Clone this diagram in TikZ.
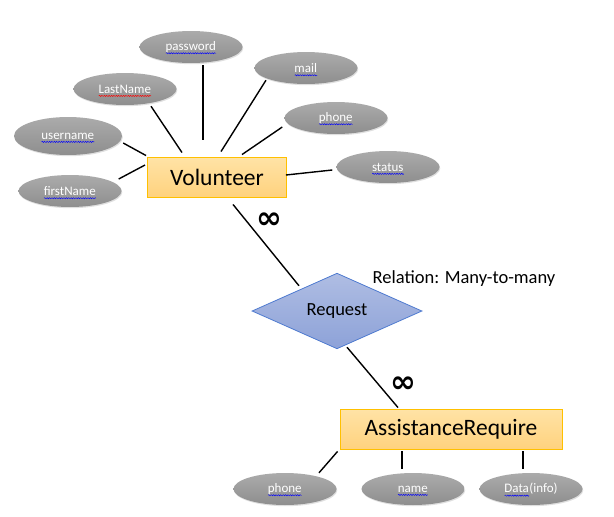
\documentclass[tikz,border=0pt]{standalone}
\usepackage{fontspec}
\setmainfont{Carlito}
\newfontfamily\dejavu{DejaVu Sans}
\usetikzlibrary{shapes.geometric,shadows,decorations.pathmorphing}
\newsavebox\sqbox
\newcommand\squig[2][blue]{\sbox\sqbox{#2}\leavevmode\rlap{\usebox\sqbox}\raisebox{-2.8pt}[0pt][0pt]{\tikz[baseline=0pt]\draw[#1,line width=0.45pt,decorate,decoration={snake,amplitude=0.6pt,segment length=2.4pt}] (0pt,0pt) -- (\wd\sqbox,0pt);}}
\definecolor{attrtop}{HTML}{ABABAB}
\definecolor{attrbot}{HTML}{8E8E8E}
\definecolor{enttop}{HTML}{FFE3A6}
\definecolor{entbot}{HTML}{FFD27E}
\definecolor{entborder}{HTML}{FFC000}
\definecolor{reltop}{HTML}{AFBDE3}
\definecolor{relbot}{HTML}{8DA2D8}
\definecolor{relborder}{HTML}{4F7BD0}
\begin{document}
\begin{tikzpicture}[x=1pt,y=-1pt,
  attr/.style={ellipse, minimum width=103pt, minimum height=32pt, inner sep=0pt,
    top color=attrtop, bottom color=attrbot, draw=none, text=white,
    font=\fontsize{13}{15}\selectfont,
    drop shadow={opacity=0.25, shadow xshift=0.8pt, shadow yshift=-1.2pt}},
  ent/.style={rectangle, draw=entborder, line width=0.9pt, top color=enttop,
    bottom color=entbot, font=\fontsize{23.5}{28}\selectfont,
    minimum height=40pt, inner sep=0pt},
  rel/.style={diamond, draw=relborder, line width=0.8pt, top color=reltop,
    bottom color=relbot, minimum width=170pt, minimum height=75pt, inner sep=0pt,
    font=\fontsize{18.5}{22}\selectfont},
  conn/.style={draw=black, line width=1.4pt},
  inf/.style={font=\dejavu\bfseries\fontsize{31}{34}\selectfont, inner sep=0pt}]
\useasboundingbox (0,0) rectangle (614,517);
% entities
\node[ent, minimum width=139pt] (vol) at (217,177) {Volunteer};
\node[ent, minimum width=222pt] (ar) at (451,429) {AssistanceRequire};
\node[rel] (req) at (337,311) {Request};
% attributes
\node[attr] (pw) at (191,47) {\squig{password}};
\node[attr] (ln) at (125,89) {\squig[red]{LastName}};
\node[attr, minimum width=108pt, minimum height=38pt] (un) at (68,136) {\squig{username}};
\node[attr] (fn) at (70,191) {\squig{firstName}};
\node[attr] (ml) at (306,68) {\squig{mail}};
\node[attr] (ph) at (336,118) {\squig{phone}};
\node[attr] (st) at (388,167) {\squig{status}};
\node[attr] (ph2) at (285,489) {\squig{phone}};
\node[attr] (nm) at (413,489) {\squig{name}};
\node[attr] (dt) at (531,489) {\squig{Data}(info)};
% labels
\node[font=\fontsize{18.5}{22}\selectfont, inner sep=0pt] (lbl) at (464,279) {Relation: Many-to-many};
\node[inf] (inf1) at (269.5,220.5) {∞};
\node[inf] (inf2) at (403.5,385) {∞};
% connectors
\draw[conn] ([xshift=12pt,yshift=-2pt]pw.south) -- ([xshift=-14pt,yshift=17pt]vol.north);
\draw[conn] ([xshift=26pt,yshift=-1pt]ln.south) -- ([xshift=-35pt,yshift=4pt]vol.north);
\draw[conn] ([xshift=-40pt,yshift=4pt]ml.south) -- ([xshift=4pt,yshift=5pt]vol.north);
\draw[conn] ([xshift=-2pt,yshift=-9pt]ph.west) -- ([xshift=25pt,yshift=2pt]vol.north);
\draw[conn] ([xshift=-4pt,yshift=-3pt]st.west) -- ([xshift=-1pt,yshift=2pt]vol.east);
\draw[conn] ([xshift=1pt,yshift=-7pt]un.east) -- ([xshift=-1pt,yshift=1pt]vol.north west);
\draw[conn] ([xshift=-3pt,yshift=12pt]fn.east) -- ([xshift=-2pt,yshift=12pt]vol.west);
\draw[conn] ([xshift=16pt,yshift=-7pt]vol.south) -- ([xshift=-38pt,yshift=-13pt]req.north);
\draw[conn] ([xshift=10pt,yshift=2pt]req.south) -- ([xshift=-53pt,yshift=1pt]ar.north);
\draw[conn] ([xshift=-2pt,yshift=-2pt]ar.south west) -- ([xshift=34pt]ph2.north);
\draw[conn] ([xshift=-49pt,yshift=-2pt]ar.south) -- ([xshift=-11pt,yshift=4pt]nm.north);
\draw[conn] ([xshift=72pt,yshift=-2pt]ar.south) -- ([xshift=-8pt,yshift=4pt]dt.north);
\end{tikzpicture}
\end{document}
